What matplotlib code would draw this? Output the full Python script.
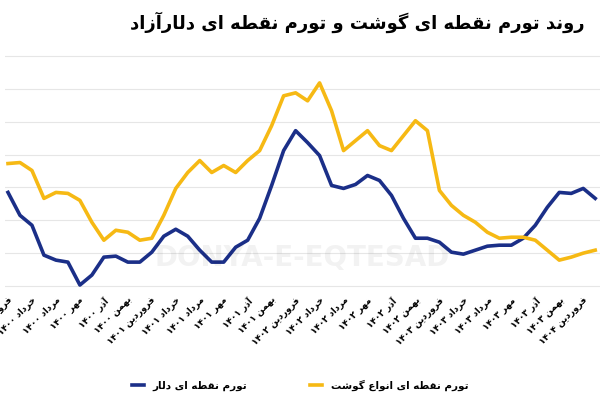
import matplotlib
matplotlib.use("Agg")
import matplotlib.pyplot as plt
import numpy as np

# شکل‌دهی ساده حروف فارسی (matplotlib خودش شکل‌دهی/راست‌به‌چپ ندارد)
FORMS = {
    "ا": (0xFE8D, 0xFE8E, None, None), "آ": (0xFE81, 0xFE82, None, None),
    "د": (0xFEA9, 0xFEAA, None, None), "ر": (0xFEAD, 0xFEAE, None, None),
    "ز": (0xFEAF, 0xFEB0, None, None), "و": (0xFEED, 0xFEEE, None, None),
    "ب": (0xFE8F, 0xFE90, 0xFE91, 0xFE92), "ت": (0xFE95, 0xFE96, 0xFE97, 0xFE98),
    "خ": (0xFEA5, 0xFEA6, 0xFEA7, 0xFEA8), "ش": (0xFEB5, 0xFEB6, 0xFEB7, 0xFEB8),
    "ط": (0xFEC1, 0xFEC2, 0xFEC3, 0xFEC4), "ع": (0xFEC9, 0xFECA, 0xFECB, 0xFECC),
    "ف": (0xFED1, 0xFED2, 0xFED3, 0xFED4), "ق": (0xFED5, 0xFED6, 0xFED7, 0xFED8),
    "ل": (0xFEDD, 0xFEDE, 0xFEDF, 0xFEE0), "م": (0xFEE1, 0xFEE2, 0xFEE3, 0xFEE4),
    "ن": (0xFEE5, 0xFEE6, 0xFEE7, 0xFEE8), "ه": (0xFEE9, 0xFEEA, 0xFEEB, 0xFEEC),
    "ی": (0xFBFC, 0xFBFD, 0xFBFE, 0xFBFF), "گ": (0xFB92, 0xFB93, 0xFB94, 0xFB95),
}


def shape_word(w):
    if not any(c in FORMS for c in w):
        return w
    out = []
    for i, c in enumerate(w):
        f = FORMS.get(c)
        if f is None:
            out.append(c)
            continue
        prev = w[i - 1] if i > 0 else None
        nxt = w[i + 1] if i + 1 < len(w) else None
        jp = prev in FORMS and FORMS[prev][2] is not None
        jn = f[2] is not None and nxt in FORMS
        if jp and jn:
            out.append(chr(f[3]))
        elif jp:
            out.append(chr(f[1]))
        elif jn:
            out.append(chr(f[2]))
        else:
            out.append(chr(f[0]))
    return "".join(reversed(out))


def fa(s):
    return " ".join(shape_word(w) for w in reversed(s.split(" ")))


months = ["فروردین", "خرداد", "مرداد", "مهر", "آذر", "بهمن"]
years = ["۱۴۰۰", "۱۴۰۱", "۱۴۰۲", "۱۴۰۳", "۱۴۰۴"]
tick_labels = [f"{m} {y}" for y in years[:4] for m in months] + ["فروردین ۱۴۰۴"]

dollar = [192, 215, 225, 255, 260, 262, 285, 275, 257, 256, 262, 262, 252, 236, 229,
          236, 250, 262, 262, 247, 240, 218, 185, 150, 130, 142, 155, 185, 188, 184,
          175, 180, 195, 218, 238, 238, 242, 252, 254, 250, 246, 245, 245, 238, 225,
          207, 192, 193, 188, 198]
meat = [163, 162, 170, 198, 192, 193, 200, 222, 240, 230, 232, 240, 238, 215, 188,
        172, 160, 172, 165, 172, 160, 150, 125, 95, 92, 100, 82, 110, 150, 140,
        130, 145, 150, 135, 120, 130, 190, 205, 215, 222, 232, 238, 237, 237, 240,
        250, 260, 257, 253, 250]
dollar = 300 - np.array(dollar)
meat = 300 - np.array(meat)
x = np.arange(len(dollar))

fig = plt.figure(figsize=(6, 4), dpi=100)
ax = fig.add_axes([5 / 600, 0.275, 595 / 600, 0.5875])
ax.plot(x, dollar, color="#1b2f88", lw=2.6, label=fa("تورم نقطه ای دلار"))
ax.plot(x, meat, color="#f6b914", lw=2.6, label=fa("تورم نقطه ای انواع گوشت"))

ax.set_xlim(-0.25, 49.4)
ax.set_ylim(10, 246)
ax.set_yticks([14, 47, 80, 113, 146, 179, 212, 245])
ax.set_yticklabels([])
ax.tick_params(axis="y", length=0)
ax.grid(axis="y", color="#e6e6e6", lw=0.8)
ax.set_xticks(x[::2])
ax.set_xticklabels([fa(t) for t in tick_labels], rotation=45, ha="right",
                   rotation_mode="anchor", fontsize=6.5, fontweight="bold")
ax.tick_params(axis="x", length=0, pad=4)
for s in ax.spines.values():
    s.set_visible(False)

ax.text(0.5, 0.1, "DONYA-E-EQTESAD", transform=ax.transAxes, ha="center",
        fontsize=20, fontweight="bold", color="#000000", alpha=0.05)

fig.text(0.975, 0.945, fa("روند تورم نقطه ای گوشت و تورم نقطه ای دلارآزاد"),
         ha="right", va="center", fontsize=13, fontweight="bold")
fig.legend(loc="lower center", ncol=2, frameon=False, fontsize=7.5,
           bbox_to_anchor=(0.5, 0.0), columnspacing=6, handlelength=1.2,
           prop={"weight": "bold", "size": 7.5})

fig.savefig("out.png", dpi=100)
